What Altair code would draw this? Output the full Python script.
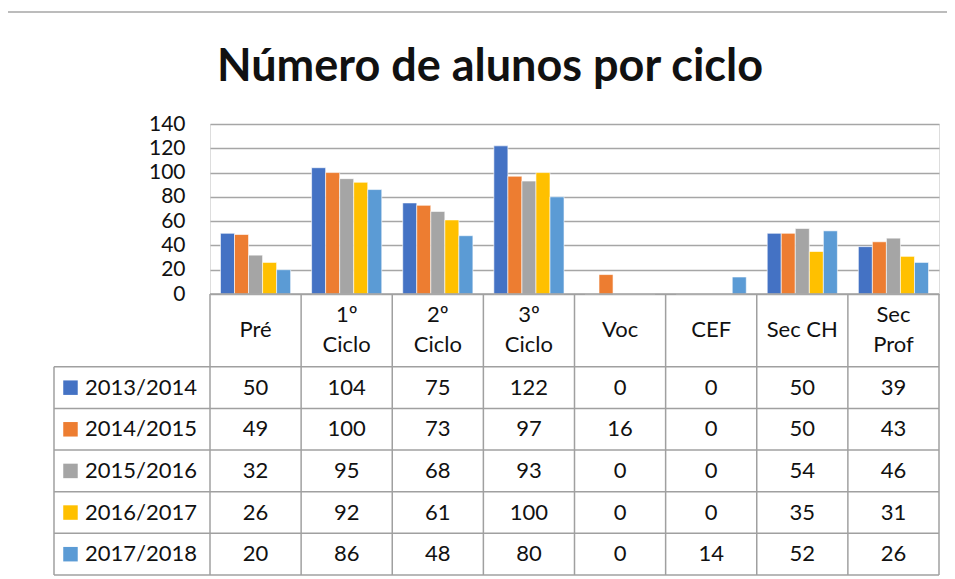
import altair as alt
import pandas as pd

# ---- data ----
categories = ["Pré", "1º Ciclo", "2º Ciclo", "3º Ciclo", "Voc", "CEF", "Sec CH", "Sec Prof"]
header_labels = ["Pré", "1º\nCiclo", "2º\nCiclo", "3º\nCiclo", "Voc", "CEF", "Sec CH", "Sec\nProf"]
series = ["2013/2014", "2014/2015", "2015/2016", "2016/2017", "2017/2018"]
colors = ["#4472C4", "#ED7D31", "#A5A5A5", "#FFC000", "#5B9BD5"]
v2013 = [50, 104, 75, 122, 0, 0, 50, 39]
v2014 = [49, 100, 73, 97, 16, 0, 50, 43]
v2015 = [32, 95, 68, 93, 0, 0, 54, 46]
v2016 = [26, 92, 61, 100, 0, 0, 35, 31]
v2017 = [20, 86, 48, 80, 0, 14, 52, 26]
y_ticks = [0, 20, 40, 60, 80, 100, 120, 140]
title_text = "Número de alunos por ciclo"

# ---- layout constants (table units: 1 column = 1, 1 row = 1) ----
W, H = 729, 170
TABLE_PX = 281
HEADER_H = 1.75
LINE_H = 0.72          # header line height in row units (~30px)
LEG_LEFT = -1.712
LEG_SQ = -1.531
LEG_TXT = -1.372
FONT = "Lato"
n_cat = len(categories)
n_ser = len(series)
TABLE_BOTTOM = HEADER_H + n_ser

values = [v2013, v2014, v2015, v2016, v2017]
rows = []
for si, s in enumerate(series):
    for ci, c in enumerate(categories):
        rows.append({"cat": c, "ci": ci, "series": s, "si": si, "value": values[si][ci]})
df = pd.DataFrame(rows)

hdr = pd.DataFrame({
    "ci": list(range(n_cat)),
    "label": header_labels,
    "nlines": [lab.count("\n") + 1 for lab in header_labels],
})
leg = pd.DataFrame({"series": series, "si": list(range(n_ser))})

lines = []
for e in range(n_cat + 1):
    lines.append({"x": e, "x2": e, "y": 0, "y2": TABLE_BOTTOM})
lines.append({"x": LEG_LEFT, "x2": LEG_LEFT, "y": HEADER_H, "y2": TABLE_BOTTOM})
lines.append({"x": 0, "x2": n_cat, "y": 0, "y2": 0})
for k in range(n_ser + 1):
    lines.append({"x": LEG_LEFT, "x2": n_cat, "y": HEADER_H + k, "y2": HEADER_H + k})
ldf = pd.DataFrame(lines)

tx = alt.Scale(domain=[0, n_cat])
ty = alt.Scale(domain=[0, TABLE_BOTTOM], range=[H, H + TABLE_PX])

bars = alt.Chart(df).mark_bar(stroke="white", strokeWidth=0.6).encode(
    x=alt.X("cat:N", sort=categories, axis=None,
            scale=alt.Scale(domain=categories, paddingInner=0.23, paddingOuter=0.115)),
    xOffset=alt.XOffset("series:N", sort=series,
                        scale=alt.Scale(domain=series, paddingInner=0, paddingOuter=0)),
    y=alt.Y("value:Q", title=None, scale=alt.Scale(domain=[0, 140], nice=False),
            axis=alt.Axis(values=y_ticks, domain=False, ticks=False, labelPadding=25,
                          labelFont=FONT, labelFontSize=21, labelColor="#111",
                          gridColor="#A6A6A6", gridWidth=1.5)),
    color=alt.Color("series:N", scale=alt.Scale(domain=series, range=colors), legend=None),
)

header = alt.Chart(hdr).transform_calculate(
    xc="datum.ci + 0.5",
    yc=f"{HEADER_H / 2} - (datum.nlines - 1) * {LINE_H / 2}",
).mark_text(
    font=FONT, fontSize=22, color="#111", lineBreak="\n", lineHeight=30, baseline="middle"
).encode(
    x=alt.X("xc:Q", scale=tx, axis=None),
    y=alt.Y("yc:Q", scale=ty, axis=None),
    text="label:N",
)

cells = alt.Chart(df).transform_calculate(
    xc="datum.ci + 0.5", yc=f"{HEADER_H} + datum.si + 0.5"
).mark_text(font=FONT, fontSize=22, color="#111", baseline="middle").encode(
    x=alt.X("xc:Q", scale=tx, axis=None),
    y=alt.Y("yc:Q", scale=ty, axis=None),
    text="value:Q",
)

leg_sq = alt.Chart(leg).transform_calculate(
    xc=str(LEG_SQ), yc=f"{HEADER_H} + datum.si + 0.5"
).mark_square(size=210, opacity=1).encode(
    x=alt.X("xc:Q", scale=tx, axis=None),
    y=alt.Y("yc:Q", scale=ty, axis=None),
    color=alt.Color("series:N", scale=alt.Scale(domain=series, range=colors), legend=None),
)

leg_txt = alt.Chart(leg).transform_calculate(
    xc=str(LEG_TXT), yc=f"{HEADER_H} + datum.si + 0.5"
).mark_text(font=FONT, fontSize=22, color="#111", align="left", baseline="middle").encode(
    x=alt.X("xc:Q", scale=tx, axis=None),
    y=alt.Y("yc:Q", scale=ty, axis=None),
    text="series:N",
)

grid = alt.Chart(ldf).mark_rule(color="#A0A0A0", strokeWidth=1.5).encode(
    x=alt.X("x:Q", scale=tx, axis=None),
    x2="x2:Q",
    y=alt.Y("y:Q", scale=ty, axis=None),
    y2="y2:Q",
)

one = pd.DataFrame({"t": [title_text]})
title = alt.Chart(one).mark_text(
    font=FONT, fontSize=45, fontWeight="bold", color="#111", align="center", baseline="alphabetic"
).encode(x=alt.value(280), y=alt.value(-43), text="t:N")

frame_left = alt.Chart(one).mark_rule(color="#A6A6A6", strokeWidth=1.5).encode(
    x=alt.value(-205), y=alt.value(-112), y2=alt.value(470))
frame_top = alt.Chart(one).mark_rule(color="#A6A6A6", strokeWidth=1.5).encode(
    x=alt.value(-205), x2=alt.value(745), y=alt.value(-112))

chart = alt.layer(bars, grid, header, cells, leg_sq, leg_txt, title, frame_left, frame_top).resolve_scale(
    x="independent", y="independent", color="independent"
).properties(
    width=W, height=H,
    autosize=alt.AutoSizeParams(type="none"),
    padding={"left": 202, "top": 116, "right": 8, "bottom": 284},
).configure_view(strokeWidth=0, strokeOpacity=0).configure_axis(
    domain=False, domainOpacity=0
).configure(background="white")

chart.save("out.html", embed_options={"renderer": "svg", "actions": False})
